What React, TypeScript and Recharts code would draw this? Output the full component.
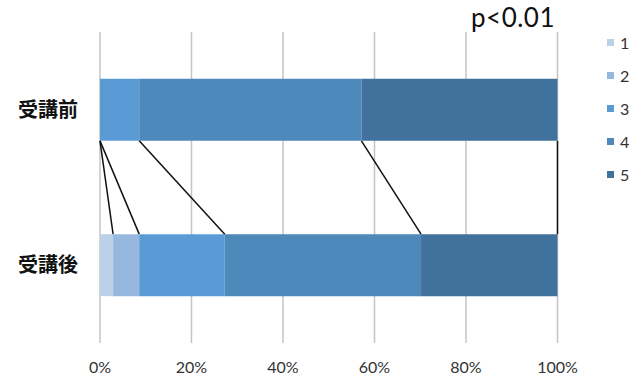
import React from "react"
import { Bar, BarChart, CartesianGrid, Legend, ReferenceLine, XAxis, YAxis } from "recharts"

const categories = ["受講前", "受講後"]
const level1 = [0, 2.86]
const level2 = [0, 5.71]
const level3 = [8.57, 18.7]
const level4 = [48.57, 42.9]
const level5 = [42.86, 29.83]
const percentTicks = [0, 20, 40, 60, 80, 100]

const levels = [level1, level2, level3, level4, level5]
const levelNames = ["1", "2", "3", "4", "5"]
const levelColors = ["#bdd0ea", "#97b8de", "#5b9bd5", "#4e89bb", "#41729d"]

const data = categories.map((name, row) => {
  const item: Record<string, string | number> = { name }
  levels.forEach((values, i) => {
    item[`s${i + 1}`] = values[row]
  })
  return item
})

// running totals per row, used for the connector lines between the two bars
const cumulative = (row: number) => {
  let sum = 0
  return levels.map((values) => (sum += values[row]))
}
const beforeCum = cumulative(0)
const afterCum = cumulative(1)

// band units on the helper axis: each category is 1 unit tall, bar takes 30%..70% of it
const BAR_GAP = 0.3
const beforeBottom = 1 - BAR_GAP
const afterTop = 1 + BAR_GAP

const font = "Lato, 'Noto Sans CJK JP', sans-serif"

function LegendList(props: any) {
  const { payload = [] } = props
  return (
    <div style={{ fontFamily: font }}>
      {payload.map((entry: any) => (
        <div key={entry.value} style={{ display: "flex", alignItems: "center", height: 33 }}>
          <span style={{ width: 7, height: 7, background: entry.color, marginRight: 6 }} />
          <span style={{ fontSize: 16, color: "#333" }}>{entry.value}</span>
        </div>
      ))}
    </div>
  )
}

export default function App() {
  return (
    <div style={{ position: "absolute", left: 0, top: 0, width: 643, height: 383, background: "#fff" }}>
      <BarChart
        width={643}
        height={383}
        data={data}
        layout="vertical"
        barCategoryGap="30%"
        margin={{ top: 32, right: 49.5, bottom: 10, left: 0 }}
      >
        <CartesianGrid horizontal={false} stroke="#c4c4c4" strokeWidth={1.5} />
        <XAxis
          type="number"
          domain={[0, 100]}
          ticks={percentTicks}
          tickFormatter={(v) => `${v}%`}
          axisLine={false}
          tickLine={false}
          tickSize={0}
          tickMargin={18.5}
          height={30}
          tick={{ fill: "#333", fontSize: 16, fontFamily: font }}
        />
        <YAxis
          yAxisId="cat"
          type="category"
          dataKey="name"
          width={100}
          axisLine={false}
          tickLine={false}
          tickSize={0}
          tickMargin={22}
          tick={{ fill: "#111", fontSize: 20, fontWeight: 700, fontFamily: "'Noto Sans CJK JP', sans-serif" }}
        />
        <YAxis
          yAxisId="frac"
          type="number"
          dataKey={() => 1}
          domain={[0, 2]}
          hide
          allowDataOverflow
        />
        <Legend
          layout="vertical"
          align="right"
          verticalAlign="top"
          content={<LegendList />}
          wrapperStyle={{ left: 607, top: 26, width: 36 }}
        />
        {levelNames.map((n, i) => (
          <Bar
            key={n}
            yAxisId="cat"
            dataKey={`s${i + 1}`}
            name={n}
            stackId="a"
            fill={levelColors[i]}
            isAnimationActive={false}
          />
        ))}
        {beforeCum.map((v, i) => (
          <ReferenceLine
            key={`link-${i}`}
            yAxisId="frac"
            segment={[
              { x: v, y: beforeBottom },
              { x: afterCum[i], y: afterTop },
            ]}
            stroke="#111"
            strokeWidth={1.5}
            ifOverflow="visible"
          />
        ))}
      </BarChart>
      <div
        style={{
          position: "absolute",
          left: 471,
          top: 2,
          fontFamily: font,
          fontSize: 26,
          letterSpacing: 0.5,
          color: "#111",
          lineHeight: "30px",
        }}
      >
        p&lt;0.01
      </div>
    </div>
  )
}
